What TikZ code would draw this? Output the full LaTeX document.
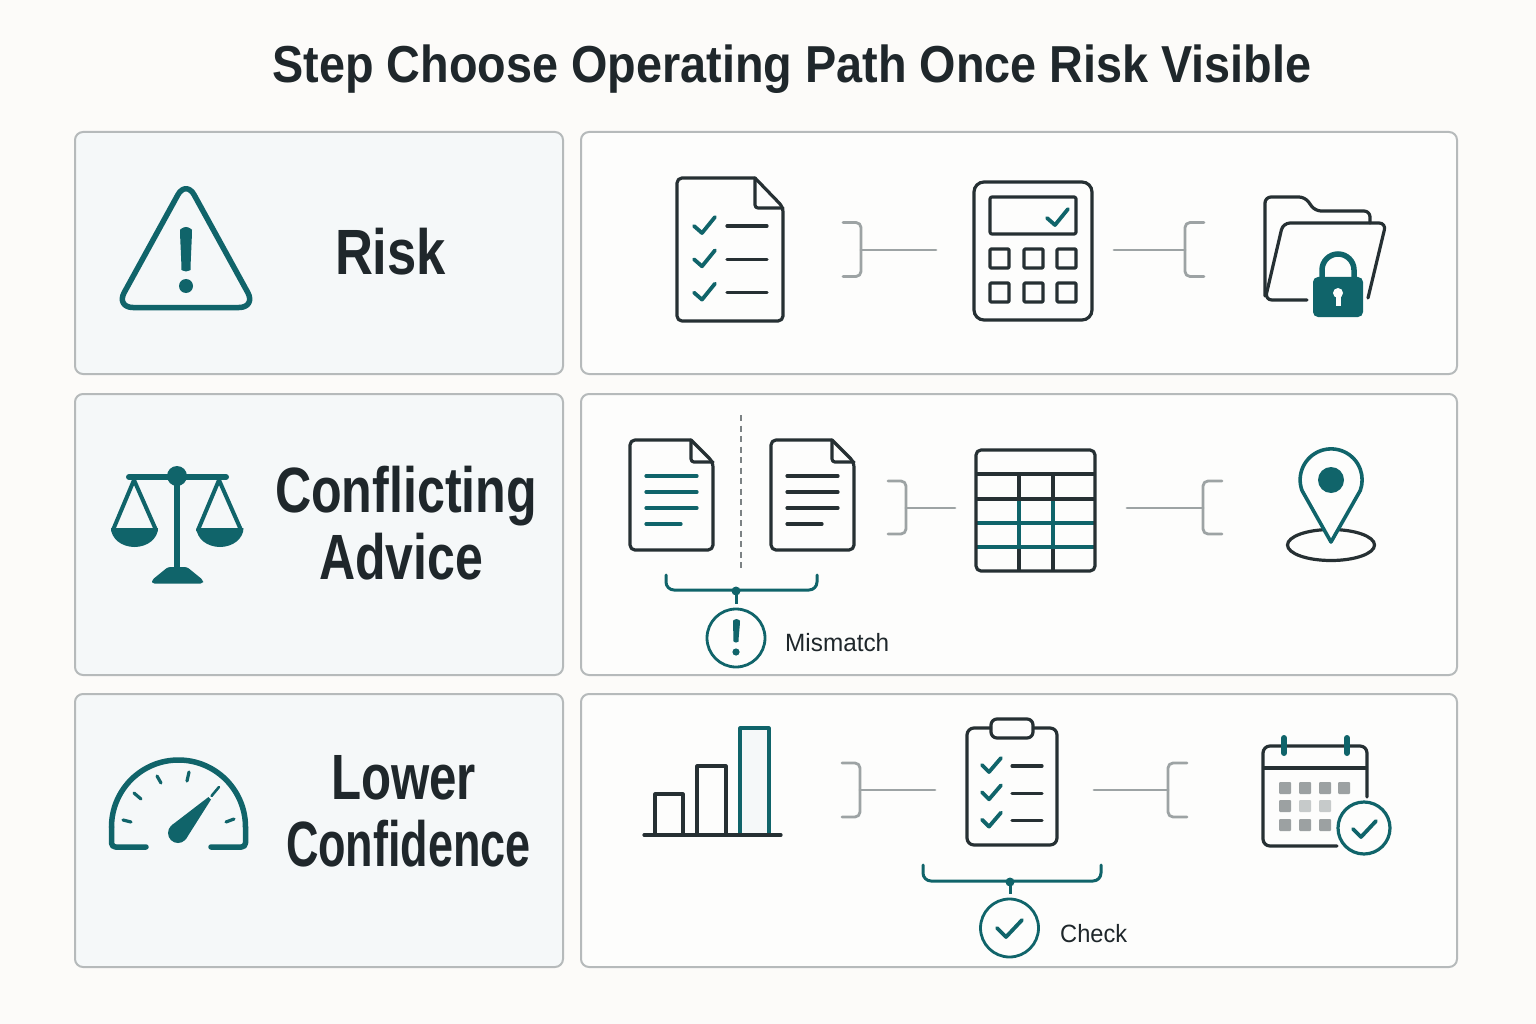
\documentclass[tikz,border=0pt]{standalone}
\usepackage{fontspec}
\setmainfont{Liberation Sans}
\definecolor{bgc}{HTML}{FCFBF9}
\definecolor{inkc}{HTML}{263033}
\definecolor{txtc}{HTML}{1F272B}
\definecolor{tealc}{HTML}{10646A}
\definecolor{framec}{HTML}{B6BABB}
\definecolor{leftc}{HTML}{F5F8F9}
\definecolor{rightc}{HTML}{FDFDFC}
\definecolor{linkc}{HTML}{9DA3A4}
\definecolor{dashc}{HTML}{7C8284}
\definecolor{cellc}{HTML}{9CA1A2}
\definecolor{celld}{HTML}{C6CACA}
\tikzset{
  leftpanel/.style={draw=framec,line width=2pt,fill=leftc,rounded corners=8pt},
  rightpanel/.style={draw=framec,line width=2pt,fill=rightc,rounded corners=8pt},
  ink/.style={draw=inkc,line width=3.2pt,line join=round,line cap=round},
  teal/.style={draw=tealc,line width=3.2pt,line join=round,line cap=round},
  link/.style={draw=linkc,line width=2.8pt,line join=round,line cap=round},
  lab/.style={anchor=base,inner sep=0pt,text=txtc},
  small/.style={anchor=base west,inner sep=0pt,text=txtc}
}
\newcommand{\fw}[3]{\resizebox{#1pt}{\height}{\fontsize{#2}{#2}\selectfont\bfseries #3}}
\newcommand{\fs}[2]{\resizebox{#1pt}{\height}{\fontsize{25}{25}\selectfont #2}}
% check mark
\newcommand{\chk}[6]{\draw[teal,line width=3.8pt] (#1,#2) -- (#3,#4) -- (#5,#6);}
% connectors: name, top y, mid y, bottom y, bracket start x, bracket spine x, line end x
\newcommand{\linkA}[7]{%
  \coordinate (#1s) at (#6,#3); \coordinate (#1e) at (#7,#3);
  \draw[link,rounded corners=5pt] (#5,#2) -- (#6,#2) -- (#6,#4) -- (#5,#4);
  \draw[link] (#1s) -- (#1e);}
\begin{document}
\begin{tikzpicture}[x=1pt,y=-1pt]
\useasboundingbox (0,0) rectangle (1536,1024);
\fill[bgc] (0,0) rectangle (1536,1024);

\node[lab] (title) at (792,83) {\fw{1039}{52}{Step Choose Operating Path Once Risk Visible}};

% panels
\draw[leftpanel] (75,132) rectangle (563,374);
\draw[rightpanel] (581,132) rectangle (1457,374);
\draw[leftpanel] (75,394) rectangle (563,675);
\draw[rightpanel] (581,394) rectangle (1457,675);
\draw[leftpanel] (75,694) rectangle (563,967);
\draw[rightpanel] (581,694) rectangle (1457,967);

% left labels
\node[lab] (risk) at (390.5,275) {\fw{111}{64}{Risk}};
\node[lab] (conf1) at (406,512) {\fw{262}{64}{Conflicting}};
\node[lab] (conf2) at (401,579) {\fw{164}{64}{Advice}};
\node[lab] (low1) at (403.5,799) {\fw{145}{64}{Lower}};
\node[lab] (low2) at (408.5,866) {\fw{245}{64}{Confidence}};

% warning triangle
\draw[teal,line width=5.5pt,rounded corners=17pt] (186,180) -- (256,307.5) -- (116,307.5) -- cycle;
\fill[tealc,rounded corners=3pt] (180,233) arc[start angle=180,end angle=0,radius=6pt] -- (190.5,267) arc[start angle=0,end angle=-180,radius=4.5pt] -- cycle;
\fill[tealc] (186,286) circle[radius=7pt];

% scales
\draw[teal,line width=6pt] (129,477) -- (226,477);
\draw[teal,line width=6pt,line cap=butt] (177,480) -- (177,570);
\fill[tealc] (177,476) circle[radius=10pt];
\fill[tealc,rounded corners=2.5pt] (152,583.5) -- (152,580) -- (168,567) -- (187,567) -- (203,580) -- (203,583.5) -- cycle;
\draw[teal,line width=4pt] (113,530) -- (134,480) -- (156,530);
\draw[teal,line width=4pt] (198,530) -- (219,480) -- (241,530);
\fill[tealc] (111,528) arc[start angle=180,end angle=360,x radius=23.5pt,y radius=19pt] -- cycle;
\fill[tealc] (196.5,528) arc[start angle=180,end angle=360,x radius=23.5pt,y radius=19pt] -- cycle;

% gauge
\draw[teal,line width=5.5pt,rounded corners=4pt] (146,847) -- (111.5,847) -- (111.5,827);
\draw[teal,line width=5.5pt,rounded corners=4pt] (211,847) -- (245.5,847) -- (245.5,827);
\draw[teal,line width=5.5pt] (111.5,827) arc[start angle=180,end angle=0,radius=67pt];
\draw[teal,line width=3.2pt] (123,820) -- (131,822);
\draw[teal,line width=3.2pt] (134,793) -- (141,799);
\draw[teal,line width=3.2pt] (157,776) -- (161,783);
\draw[teal,line width=3.2pt] (189,772) -- (187,781);
\draw[teal,line width=3.2pt] (226,822) -- (234,819);
\fill[tealc] (178,833) circle[radius=10pt];
\fill[tealc] (172,825) -- (208.5,797) -- (211,799.5) -- (186,839) -- cycle;
\draw[teal,line width=2.6pt] (211.5,796) -- (219,787);

% row 1: checklist document
\draw[ink] (755,178) -- (682,178) [rounded corners=5pt] -- (677,178) -- (677,321) -- (783,321) -- (783,207) [sharp corners] -- (755,178);
\draw[ink,rounded corners=3pt] (755,178) -- (755,208) -- (783,208);
\foreach \d in {0,33.3,66.6}{
  \chk{694}{226+\d}{702}{233+\d}{715}{217+\d}
  \draw[ink] (727,226+\d) -- (767,226+\d);
}
\linkA{a}{222.5}{250}{276.5}{843}{861}{936}

% calculator
\draw[ink,rounded corners=10pt] (974,182) rectangle (1092,320);
\draw[ink,rounded corners=2pt] (990,197) rectangle (1076,234);
\chk{1047}{218}{1055}{225}{1068}{209}
\foreach \x in {990,1024,1057}{
  \foreach \y in {249,283}{
    \draw[ink,rounded corners=1pt] (\x,\y) rectangle (\x+19,\y+19);
  }
}
\linkA{b}{222.5}{250}{276.5}{1204}{1185}{1114}

% folder with lock
\draw[ink,rounded corners=6pt] (1265,296) -- (1265,197) -- (1305,197) -- (1315,211) -- (1370,211) -- (1370,223);
\draw[ink,rounded corners=7pt] (1307,300) -- (1265,300) -- (1283,223) -- (1386,223) -- (1368,298);
\draw[tealc,line width=5.5pt] (1322,280) -- (1322,270) arc[start angle=180,end angle=0,radius=16pt] -- (1354,280);
\fill[tealc,rounded corners=5pt] (1313,277) rectangle (1363,317);
\fill[rightc] (1338,293) circle[radius=5pt];
\fill[rightc] (1335.5,294) -- (1340.5,294) -- (1340.5,306) -- (1335.5,306) -- cycle;

% row 2: two documents
\foreach \l/\col in {630/tealc,771/inkc}{
  \draw[ink] (\l+61,440) -- (\l+5,440) [rounded corners=5pt] -- (\l,440) -- (\l,550) -- (\l+83,550) -- (\l+83,462) [sharp corners] -- (\l+61,440);
  \draw[ink,rounded corners=3pt] (\l+61,440) -- (\l+61,462) -- (\l+83,462);
  \foreach \y in {476,492,508}{
    \draw[draw=\col,line width=3.2pt,line cap=round] (\l+16,\y) -- (\l+67,\y);
  }
  \draw[draw=\col,line width=3.2pt,line cap=round] (\l+16,524) -- (\l+51,524);
}
\draw[draw=dashc,line width=2.8pt,dash pattern=on 6pt off 4.5pt] (741,415) -- (741,572);
\draw[teal,line width=3pt,rounded corners=8pt] (666,575) -- (666,590) -- (817,590) -- (817,575);
\coordinate (mdot) at (736,591);
\node[draw=tealc,line width=2.8pt,circle,minimum size=58pt,inner sep=0pt] (mcirc) at (736,638) {};
\fill[tealc] (mdot) circle[radius=4.5pt];
\draw[teal,line width=3pt,line cap=butt] (mdot) -- (736,604);
\fill[tealc,rounded corners=1.5pt] (733,622.5) arc[start angle=180,end angle=0,radius=3.5pt] -- (738.5,640) arc[start angle=0,end angle=-180,radius=2.5pt] -- cycle;
\fill[tealc] (736,652) circle[radius=3.6pt];
\node[small] (mism) at (785,651) {\fs{104}{Mismatch}};
\linkA{c}{481}{508}{534}{888}{906}{955}

% table
\draw[ink,line cap=butt] (1019,474) -- (1019,499);
\draw[ink,line cap=butt] (1053,474) -- (1053,499);
\draw[ink,line cap=butt] (1019,547) -- (1019,571);
\draw[ink,line cap=butt] (1053,547) -- (1053,571);
\draw[teal,line cap=butt] (1019,499) -- (1019,547);
\draw[teal,line cap=butt] (1053,499) -- (1053,547);
\draw[teal,line cap=butt] (976,523) -- (1095,523);
\draw[teal,line cap=butt] (976,547) -- (1095,547);
\draw[ink,line cap=butt] (976,474) -- (1095,474);
\draw[ink,line cap=butt] (976,499) -- (1095,499);
\draw[ink,rounded corners=5pt] (976,450) rectangle (1095,571);
\linkA{d}{481}{508}{534}{1222}{1203}{1127}

% pin
\draw[ink] (1331,545) ellipse[x radius=43.5pt,y radius=15.5pt];
\draw[teal,line width=3.6pt,fill=rightc] (1331,542) -- (1302,490.5) arc[start angle=200,end angle=-20,radius=31pt] -- cycle;
\fill[tealc] (1331,480) circle[radius=13pt];

% row 3: bar chart
\draw[ink,line cap=butt] (655,835) -- (655,794) -- (683,794) -- (683,835);
\draw[ink,line cap=butt] (697,835) -- (697,766) -- (726,766) -- (726,835);
\draw[teal,fill=leftc,line cap=butt] (740,835) -- (740,728) -- (769,728) -- (769,835);
\draw[ink] (644,835) -- (781,835);
\linkA{e}{763}{790}{817}{842}{860}{935}

% clipboard
\draw[ink,rounded corners=7pt] (967,728) rectangle (1057,845);
\draw[ink,fill=rightc,rounded corners=6pt] (991,719) rectangle (1033,738);
\foreach \d in {0,27.3,54.6}{
  \chk{982}{765+\d}{989}{772+\d}{1001}{758+\d}
  \draw[ink] (1012,766+\d) -- (1042,766+\d);
}
\draw[teal,line width=3pt,rounded corners=8pt] (923,865) -- (923,881) -- (1101,881) -- (1101,865);
\coordinate (cdot) at (1010,882);
\node[draw=tealc,line width=2.8pt,circle,minimum size=58pt,inner sep=0pt] (ccirc) at (1009.5,928) {};
\fill[tealc] (cdot) circle[radius=4.5pt];
\draw[teal,line width=3pt,line cap=butt] (cdot) -- (1010,894);
\chk{997}{928}{1006}{937}{1022}{920}
\node[small] (chk) at (1060,942) {\fs{67}{Check}};
\linkA{f}{763}{790}{817}{1187}{1168}{1094}

% calendar
\draw[ink,rounded corners=7pt] (1337,846) -- (1263,846) -- (1263,746) -- (1367,746) -- (1367,797);
\draw[ink,line cap=butt] (1263,768) -- (1367,768);
\draw[teal,line width=6pt] (1284,738) -- (1284,753);
\draw[teal,line width=6pt] (1347,738) -- (1347,753);
\foreach \x/\y/\c in {1279/782/cellc,1299/782/cellc,1319/782/cellc,1338/782/cellc,1279/800/cellc,1299/800/celld,1319/800/celld,1279/819/cellc,1299/819/cellc,1319/819/cellc}{
  \fill[\c,rounded corners=1pt] (\x,\y) rectangle (\x+12,\y+12);
}
\draw[teal,fill=rightc] (1364,828) circle[radius=26pt];
\chk{1353}{829}{1361}{837}{1376}{821}
\end{tikzpicture}
\end{document}
